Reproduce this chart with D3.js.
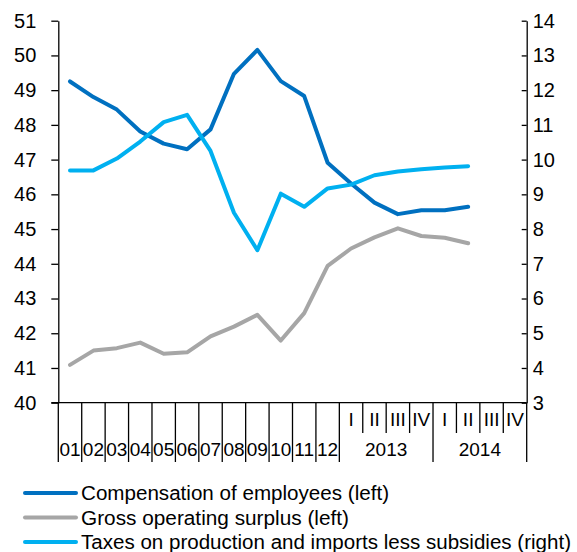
<!DOCTYPE html>
<html>
<head>
<meta charset="utf-8">
<script src="https://cdn.jsdelivr.net/npm/d3@7"></script>
<style>
  body { margin: 0; background: #fff; }
  svg { display: block; font-family: 'Liberation Sans', Arial, sans-serif; }
  .axis path, .axis line { stroke: #000; stroke-width: 1.3; }
  .axis text { font-size: 20px; fill: #000; }
</style>
</head>
<body>
<div id="chart"></div>
<script>
// months of 2012, then quarters of 2013 and 2014
const monthLabels = ['01', '02', '03', '04', '05', '06', '07', '08', '09', '10', '11', '12']
const quarterLabels = ['I', 'II', 'III', 'IV', 'I', 'II', 'III', 'IV']
const yearLabels = ['2013', '2014']

const compensation = [49.25, 48.8, 48.44, 47.81, 47.46, 47.3, 47.87, 49.47, 50.16, 49.26, 48.83, 46.91,
  46.31, 45.76, 45.43, 45.54, 45.54, 45.64]
const surplus = [41.09, 41.5, 41.57, 41.73, 41.41, 41.45, 41.91, 42.19, 42.53, 41.79, 42.58, 43.94,
  44.44, 44.76, 45.02, 44.8, 44.75, 44.59]
const taxes = [9.69, 9.69, 10.03, 10.52, 11.08, 11.29, 10.25, 8.47, 7.39, 9.02, 8.64, 9.17,
  9.28, 9.55, 9.66, 9.72, 9.77, 9.81]

const leftTicks = d3.range(40, 52)
const rightTicks = d3.range(3, 15)

const series = [
  { name: 'Compensation of employees (left)', values: compensation, axis: 'left', color: '#0070C0', textWidth: 308 },
  { name: 'Gross operating surplus (left)', values: surplus, axis: 'left', color: '#A6A6A6', textWidth: 268 },
  { name: 'Taxes on production and imports less subsidies (right)', values: taxes, axis: 'right', color: '#00B0F0', textWidth: 490 },
]

const width = 577
const height = 552
const plotLeft = 58.3
const plotRight = 526.7
const plotTop = 20.7
const plotBottom = 402.7

const nCats = monthLabels.length + quarterLabels.length

const svg = d3.select('#chart').append('svg')
  .attr('width', width)
  .attr('height', height)

const x = d3.scaleBand().domain(d3.range(nCats)).range([plotLeft, plotRight]).padding(0)
const yLeft = d3.scaleLinear().domain([40, 51]).range([plotBottom, plotTop])
const yRight = d3.scaleLinear().domain([3, 14]).range([plotBottom, plotTop])

// Left axis, ticks outward
svg.append('g')
  .attr('class', 'axis')
  .attr('transform', `translate(${plotLeft},0)`)
  .call(d3.axisLeft(yLeft).tickValues(leftTicks).tickSize(7).tickPadding(15).tickSizeOuter(0))

// Right axis, ticks inward
svg.append('g')
  .attr('class', 'axis')
  .attr('transform', `translate(${plotRight},0)`)
  .call(d3.axisRight(yRight).tickValues(rightTicks).tickSize(-5).tickPadding(6).tickSizeOuter(0))

// Category axis drawn by hand: long lines for months and years, short for quarters
const catAxis = svg.append('g').attr('class', 'axis')
catAxis.append('line')
  .attr('x1', plotLeft - 7).attr('x2', plotRight)
  .attr('y1', plotBottom).attr('y2', plotBottom)

const boundaries = d3.range(nCats + 1)
catAxis.selectAll('.sep')
  .data(boundaries)
  .enter()
  .append('line')
  .attr('x1', (k) => plotLeft + k * x.bandwidth())
  .attr('x2', (k) => plotLeft + k * x.bandwidth())
  .attr('y1', plotBottom)
  .attr('y2', (k) => {
    if (k <= monthLabels.length) return 462
    return (k - monthLabels.length) % 4 === 0 ? 462 : 433
  })

catAxis.selectAll('.month')
  .data(monthLabels)
  .enter()
  .append('text')
  .attr('x', (d, i) => x(i) + x.bandwidth() / 2)
  .attr('y', 455.5)
  .attr('text-anchor', 'middle')
  .style('font-size', '19px')
  .text((d) => d)

catAxis.selectAll('.quarter')
  .data(quarterLabels)
  .enter()
  .append('text')
  .attr('x', (d, i) => x(monthLabels.length + i) + x.bandwidth() / 2)
  .attr('y', 425.5)
  .attr('text-anchor', 'middle')
  .style('font-size', '19px')
  .text((d) => d)

catAxis.selectAll('.year')
  .data(yearLabels)
  .enter()
  .append('text')
  .attr('x', (d, i) => x(monthLabels.length + i * 4) + x.bandwidth() * 2)
  .attr('y', 455.5)
  .attr('text-anchor', 'middle')
  .style('font-size', '19px')
  .text((d) => d)

// Lines
series.forEach((s) => {
  const y = s.axis === 'left' ? yLeft : yRight
  const line = d3.line()
    .x((d, i) => x(i) + x.bandwidth() / 2)
    .y((d) => y(d))
  svg.append('path')
    .datum(s.values)
    .attr('fill', 'none')
    .attr('stroke', s.color)
    .attr('stroke-width', 4)
    .attr('stroke-linejoin', 'round')
    .attr('stroke-linecap', 'round')
    .attr('d', line)
})

// Legend (text stretched a little, the original font runs wider)
const legend = svg.append('g')
series.forEach((s, i) => {
  const ly = 493 + i * 24.5
  legend.append('line')
    .attr('x1', 25).attr('x2', 76)
    .attr('y1', ly).attr('y2', ly)
    .attr('stroke', s.color)
    .attr('stroke-width', 4)
    .attr('stroke-linecap', 'round')
  legend.append('text')
    .attr('x', 81)
    .attr('y', ly)
    .attr('dy', '0.35em')
    .attr('textLength', s.textWidth)
    .attr('lengthAdjust', 'spacingAndGlyphs')
    .style('font-size', '20px')
    .text(s.name)
})
</script>
</body>
</html>
